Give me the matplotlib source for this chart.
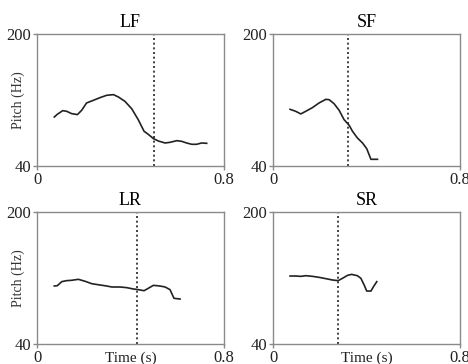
import numpy as np
import matplotlib.pyplot as plt

plt.rcParams['font.family'] = ['Liberation Serif', 'DejaVu Serif']

# pitch tracks (time in s, pitch in Hz)
lf_t = [0.074, 0.087, 0.110, 0.127, 0.148, 0.173, 0.191, 0.212, 0.241, 0.270, 0.298, 0.327,
        0.348, 0.376, 0.405, 0.433, 0.458, 0.476, 0.498, 0.519, 0.548, 0.569, 0.598, 0.619,
        0.640, 0.662, 0.683, 0.704, 0.726]
lf_p = [99.4, 102.7, 107.1, 106.3, 103.5, 102.3, 107.5, 116.4, 119.6, 122.9, 125.7, 126.5,
        123.7, 118.4, 109.5, 96.2, 82.1, 78.4, 73.2, 70.3, 67.9, 68.7, 70.7, 69.9,
        67.9, 66.3, 66.3, 67.9, 67.5]
sf_t = [0.073, 0.097, 0.119, 0.140, 0.169, 0.197, 0.226, 0.240, 0.261, 0.283, 0.304, 0.326,
        0.340, 0.361, 0.383, 0.401, 0.419, 0.447]
sf_p = [108.7, 106.3, 103.1, 106.3, 110.8, 116.4, 120.8, 120.4, 115.6, 107.5, 96.2, 89.3,
        82.1, 74.0, 67.9, 61.0, 48.1, 48.1]
lr_t = [0.074, 0.087, 0.106, 0.127, 0.148, 0.177, 0.206, 0.234, 0.270, 0.298, 0.320, 0.355,
        0.384, 0.412, 0.433, 0.458, 0.476, 0.498, 0.526, 0.548, 0.569, 0.586, 0.612]
lr_p = [110.3, 110.7, 115.6, 116.8, 117.2, 118.4, 116.0, 113.1, 111.5, 110.3, 109.1, 109.1,
        108.3, 106.7, 105.9, 104.6, 107.5, 111.1, 110.3, 109.1, 105.9, 95.4, 94.5]
sr_t = [0.073, 0.097, 0.119, 0.140, 0.169, 0.197, 0.226, 0.254, 0.279, 0.297, 0.319, 0.336,
        0.361, 0.376, 0.390, 0.401, 0.419, 0.430, 0.444]
sr_p = [122.4, 122.4, 122.0, 122.8, 122.0, 120.8, 119.2, 117.6, 116.8, 119.6, 123.2, 124.4,
        122.8, 119.6, 111.5, 104.2, 104.2, 109.5, 115.6]

titles = ['LF', 'SF', 'LR', 'SR']
boundaries = [0.499, 0.321, 0.429, 0.280]

W, H = 468, 364
fig = plt.figure(figsize=(W / 100, H / 100), dpi=100)

boxes = [(37, 34), (273, 34), (37, 212), (273, 212)]  # left, top in px
data = [(lf_t, lf_p), (sf_t, sf_p), (lr_t, lr_p), (sr_t, sr_p)]
gray = '#8a8a8a'

for i, ((l, t), (xs, ys)) in enumerate(zip(boxes, data)):
    ax = fig.add_axes([l / W, 1 - (t + 132) / H, 187 / W, 132 / H])
    ax.plot(xs, ys, color='#222222', lw=1.2)
    ax.axvline(boundaries[i], color='#222222', lw=1.2, ls=(0, (1.2, 1.6)))
    ax.set_xlim(0, 0.8)
    ax.set_ylim(40, 200)
    ax.set_xticks([0, 0.8])
    ax.set_xticklabels(['0', '0.8'])
    ax.set_yticks([40, 200])
    for s in ax.spines.values():
        s.set_color(gray)
        s.set_linewidth(1.0)
    ax.tick_params(colors=gray, labelcolor='#222222', labelsize=12, length=3, width=1, pad=1)
    ax.set_title(titles[i], fontsize=13, pad=5)
    if i % 2 == 0:
        ax.set_ylabel('Pitch (Hz)', fontsize=10, color='#333333')
        ax.yaxis.set_label_coords(-0.064, 0.5)
    if i >= 2:
        ax.set_xlabel('Time (s)', fontsize=11, color='#222222')
        ax.xaxis.set_label_coords(0.5, -0.06)

fig.savefig('out.png', dpi=100)
